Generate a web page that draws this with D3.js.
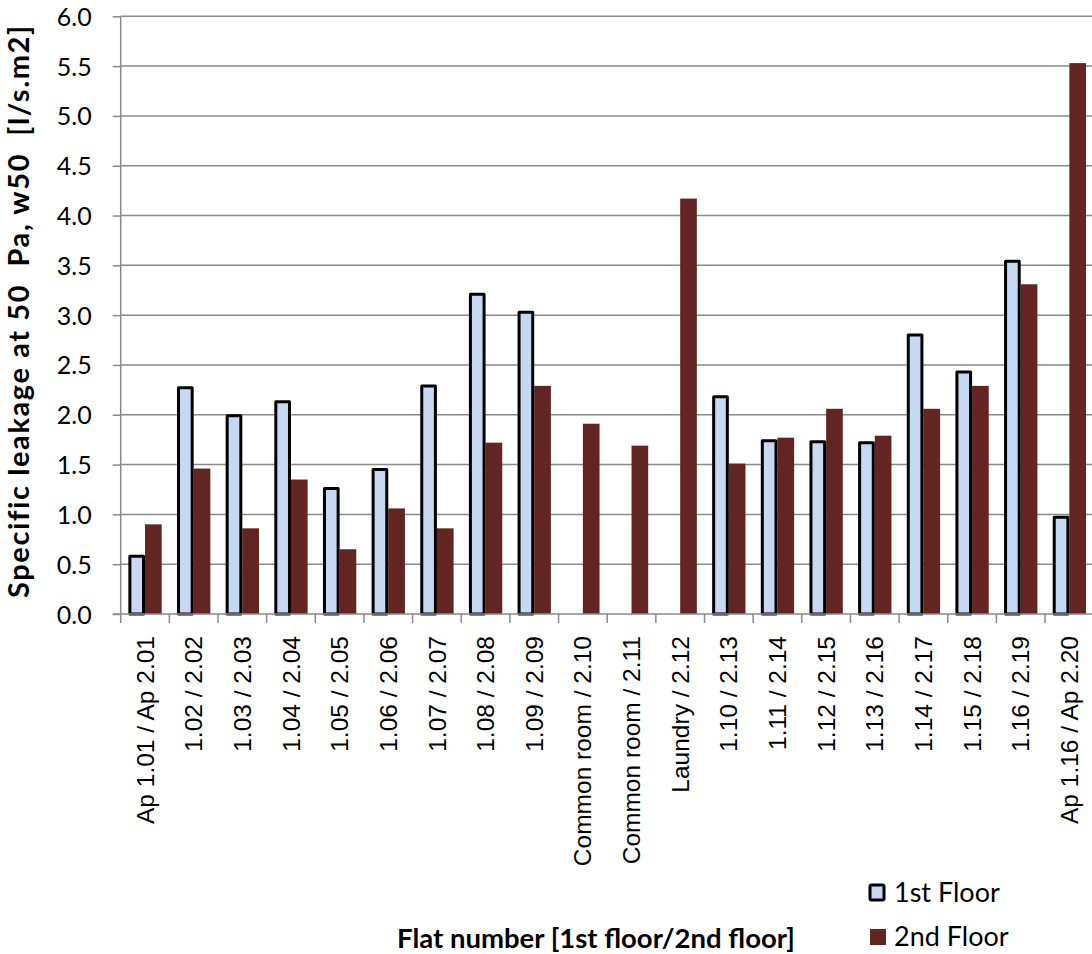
<!DOCTYPE html>
<html>
<head>
<meta charset="utf-8">
<script src="https://cdn.jsdelivr.net/npm/d3@7/dist/d3.min.js"></script>
<style>
  html, body { margin: 0; padding: 0; background: #fff; }
  svg { display: block; }
  text { white-space: pre; }
</style>
</head>
<body>
<svg id="chart" width="1092" height="954"></svg>
<script>
const categories = [
  "Ap 1.01 / Ap 2.01", "1.02 / 2.02", "1.03 / 2.03", "1.04 / 2.04", "1.05 / 2.05",
  "1.06 / 2.06", "1.07 / 2.07", "1.08 / 2.08", "1.09 / 2.09", "Common room / 2.10",
  "Common room / 2.11", "Laundry / 2.12", "1.10 / 2.13", "1.11 / 2.14", "1.12 / 2.15",
  "1.13 / 2.16", "1.14 / 2.17", "1.15 / 2.18", "1.16 / 2.19", "Ap 1.16 / Ap 2.20"
];
const firstFloor = [0.58, 2.27, 1.99, 2.13, 1.26, 1.45, 2.29, 3.21, 3.03, null, null, null,
  2.18, 1.74, 1.73, 1.72, 2.80, 2.43, 3.54, 0.97];
const secondFloor = [0.90, 1.46, 0.86, 1.35, 0.65, 1.06, 0.86, 1.72, 2.29, 1.91, 1.69, 4.17,
  1.51, 1.77, 2.06, 1.79, 2.06, 2.29, 3.31, 5.53];
const seriesNames = ["1st Floor", "2nd Floor"];
const yTicks = [0, 0.5, 1, 1.5, 2, 2.5, 3, 3.5, 4, 4.5, 5, 5.5, 6];

(function () {
const svg = d3.select("#chart");
const pLeft = 120.7, pRight = 1093.7, pTop = 16.3, pBottom = 614;
const calibri = "Lato, Carlito, Calibri, sans-serif";

const x = d3.scaleBand().domain(categories).range([pLeft, pRight]).padding(0);
const xs = d3.scaleBand().domain(seriesNames).range([0, x.bandwidth()])
  .paddingInner(0).paddingOuter(0.46);
const y = d3.scaleLinear().domain([0, 6]).range([pBottom, pTop]);

// gridlines
svg.append("g").selectAll("line").data(yTicks.slice(1)).join("line")
  .attr("x1", pLeft).attr("x2", 1092)
  .attr("y1", d => y(d)).attr("y2", d => y(d))
  .attr("stroke", "#8a8a8a").attr("stroke-width", 1.5);

// bars
const data = categories.map((c, i) => ({c, v1: firstFloor[i], v2: secondFloor[i]}));
svg.append("g").selectAll("rect").data(data.filter(d => d.v2 != null)).join("rect")
  .attr("x", d => x(d.c) + xs("2nd Floor"))
  .attr("width", xs.bandwidth())
  .attr("y", d => y(d.v2))
  .attr("height", d => y(0) - y(d.v2))
  .attr("fill", "#632523");
svg.append("g").selectAll("rect").data(data.filter(d => d.v1 != null)).join("rect")
  .attr("x", d => x(d.c) + xs("1st Floor") + 1.5)
  .attr("width", xs.bandwidth() - 3)
  .attr("y", d => y(d.v1))
  .attr("height", d => y(0) - y(d.v1))
  .attr("fill", "#c6d9f1")
  .attr("stroke", "#000").attr("stroke-width", 3).attr("stroke-linejoin", "round");

// y axis
const yAxis = d3.axisLeft(y).tickValues(yTicks).tickSize(8).tickPadding(21)
  .tickFormat(d3.format(".1f"));
const gy = svg.append("g").attr("transform", `translate(${pLeft},0)`).call(yAxis);
gy.select(".domain").attr("stroke", "#8a8a8a").attr("stroke-width", 1.5)
  .attr("d", `M0,${pBottom}V${pTop}`);
gy.selectAll(".tick line").attr("stroke", "#8a8a8a").attr("stroke-width", 1.5);
gy.selectAll(".tick text").attr("font-family", calibri)
  .attr("font-size", 25).attr("fill", "#000").attr("dy", "0.36em");

// x axis
const xAxis = d3.axisBottom(x).tickSize(0).tickPadding(0);
const gx = svg.append("g").attr("transform", `translate(0,${pBottom})`).call(xAxis);
gx.select(".domain").attr("stroke", "#8a8a8a").attr("stroke-width", 1.5)
  .attr("d", `M${pLeft - 8},0H1092`);
gx.selectAll(".tick text")
  .attr("font-family", "Liberation Sans, Arial, sans-serif")
  .attr("font-size", 24.5).attr("fill", "#000")
  .attr("text-anchor", "end")
  .attr("transform", "translate(0,22) rotate(-90)")
  .attr("x", 0).attr("y", 0).attr("dy", "0.35em");
// category separators
svg.append("g").selectAll("line").data(categories.concat(["_end"])).join("line")
  .attr("x1", (d, i) => pLeft + i * x.step()).attr("x2", (d, i) => pLeft + i * x.step())
  .attr("y1", pBottom).attr("y2", pBottom + 9)
  .attr("stroke", "#8a8a8a").attr("stroke-width", 1.5);

// axis titles
svg.append("text")
  .attr("transform", `translate(29,${(pTop + pBottom) / 2 - 4}) rotate(-90)`)
  .attr("text-anchor", "middle")
  .attr("font-family", calibri).attr("font-weight", "bold")
  .attr("font-size", 29).attr("letter-spacing", 1.6).attr("fill", "#000")
  .text("Specific leakage at 50  Pa, w50  [l/s.m2]");
svg.append("text")
  .attr("x", 596).attr("y", 948)
  .attr("text-anchor", "middle")
  .attr("font-family", calibri).attr("font-weight", "bold")
  .attr("font-size", 27.5).attr("fill", "#000")
  .text("Flat number [1st floor/2nd floor]");

// legend
const legend = svg.append("g");
legend.append("rect").attr("x", 870).attr("y", 885).attr("width", 14).attr("height", 15)
  .attr("fill", "#c6d9f1").attr("stroke", "#000").attr("stroke-width", 3).attr("rx", 1.5);
legend.append("text").attr("x", 894).attr("y", 902)
  .attr("font-family", calibri).attr("font-size", 27).attr("fill", "#000")
  .text(seriesNames[0]);
legend.append("rect").attr("x", 870).attr("y", 929).attr("width", 16).attr("height", 16)
  .attr("fill", "#632523");
legend.append("text").attr("x", 894).attr("y", 946)
  .attr("font-family", calibri).attr("font-size", 27).attr("fill", "#000")
  .text(seriesNames[1]);
})();
</script>
</body>
</html>
